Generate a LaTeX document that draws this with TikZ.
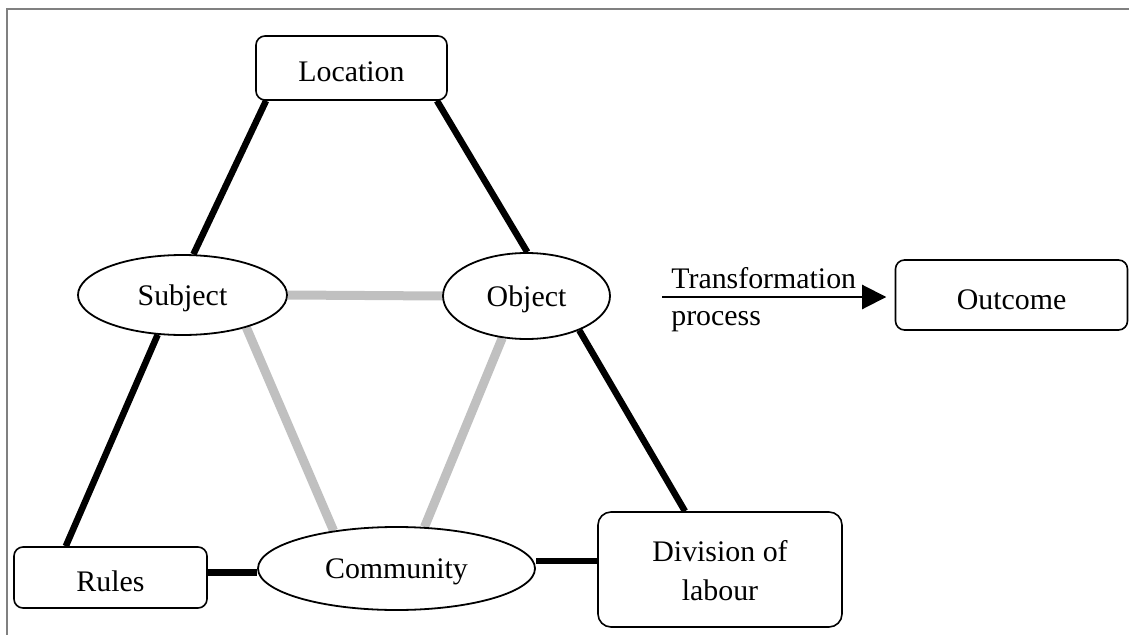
\documentclass[tikz,border=0pt]{standalone}
\usepackage{fontspec}
\setmainfont{Liberation Serif}
\usetikzlibrary{arrows.meta,shapes.geometric,backgrounds}
\newlength\pxu
\setlength\pxu{0.02cm}
\definecolor{framegray}{RGB}{128,128,128}
\definecolor{linkgray}{RGB}{192,192,192}
\tikzset{
  box/.style={draw, fill=white, line width=1.6\pxu, rounded corners=9\pxu,
    inner sep=0pt, text height=28\pxu, text depth=0pt},
  oval/.style={draw, fill=white, ellipse, line width=1.8\pxu,
    inner sep=0pt, text height=20\pxu, text depth=0pt},
  dark/.style={line width=6.5\pxu, black},
  pale/.style={line width=9\pxu, linkgray},
  flow/.style={line width=2\pxu, -{Triangle[length=13.7pt, width=13.7pt]}},
  caption/.style={anchor=base west, inner sep=0pt}
}
\begin{document}
\begin{tikzpicture}[x=0.02cm, y=-0.02cm, font=\fontsize{17}{22}\selectfont]
\useasboundingbox (0,0) rectangle (1129,635);

% frame edges
\draw[framegray, line width=2.5\pxu] (7,635) -- (7,9) -- (1129,9);

% nodes of the activity system
\node[box, minimum width=191\pxu, minimum height=64\pxu] (loc) at (351.5,68) {Location};
\node[oval, minimum width=209\pxu, minimum height=80\pxu] (subj) at (182.5,295) {Subject};
\node[oval, minimum width=167\pxu, minimum height=86\pxu] (obj) at (526.5,296) {Object};
\node[oval, minimum width=277\pxu, minimum height=83\pxu] (comm) at (396.5,568.5) {Community};
\node[box, minimum width=193\pxu, minimum height=61\pxu] (rules) at (110.5,577.5) {Rules};
\node[box, rounded corners=13\pxu, minimum width=244\pxu, minimum height=115\pxu,
      align=center, text height=61\pxu] (div) at (720,569.5) {Division of\\labour};
\node[box, minimum width=232\pxu, minimum height=70\pxu] (out) at (1011.5,295) {Outcome};

% transformation arrow and its caption
\coordinate (tstart) at (662,297);
\draw[flow, shorten >=4.8pt] (tstart) -- (tstart -| out.west);
\node[caption] (tlab) at (671,288) {Transformation};
\node[caption] (plab) at (671,325) {process};

% connectors behind the nodes
\begin{scope}[on background layer]
  \draw[dark] (loc.201) -- (subj.75);
  \draw[dark] (loc.-21) -- (obj.89);
  \draw[dark] (subj.238) -- (rules.145);
  \draw[dark] (obj.-33) -- (div.121);
  \draw[dark] (rules.3) -- (rules.3 -| comm.west);
  \draw[dark] (div.176) -- (div.176 -| comm.east);
  \draw[pale] (subj.east) -- (obj.west);
  \draw[pale] (subj.-27) -- (comm.149);
  \draw[pale] (obj.240) -- (comm.56);
\end{scope}
\end{tikzpicture}
\end{document}
